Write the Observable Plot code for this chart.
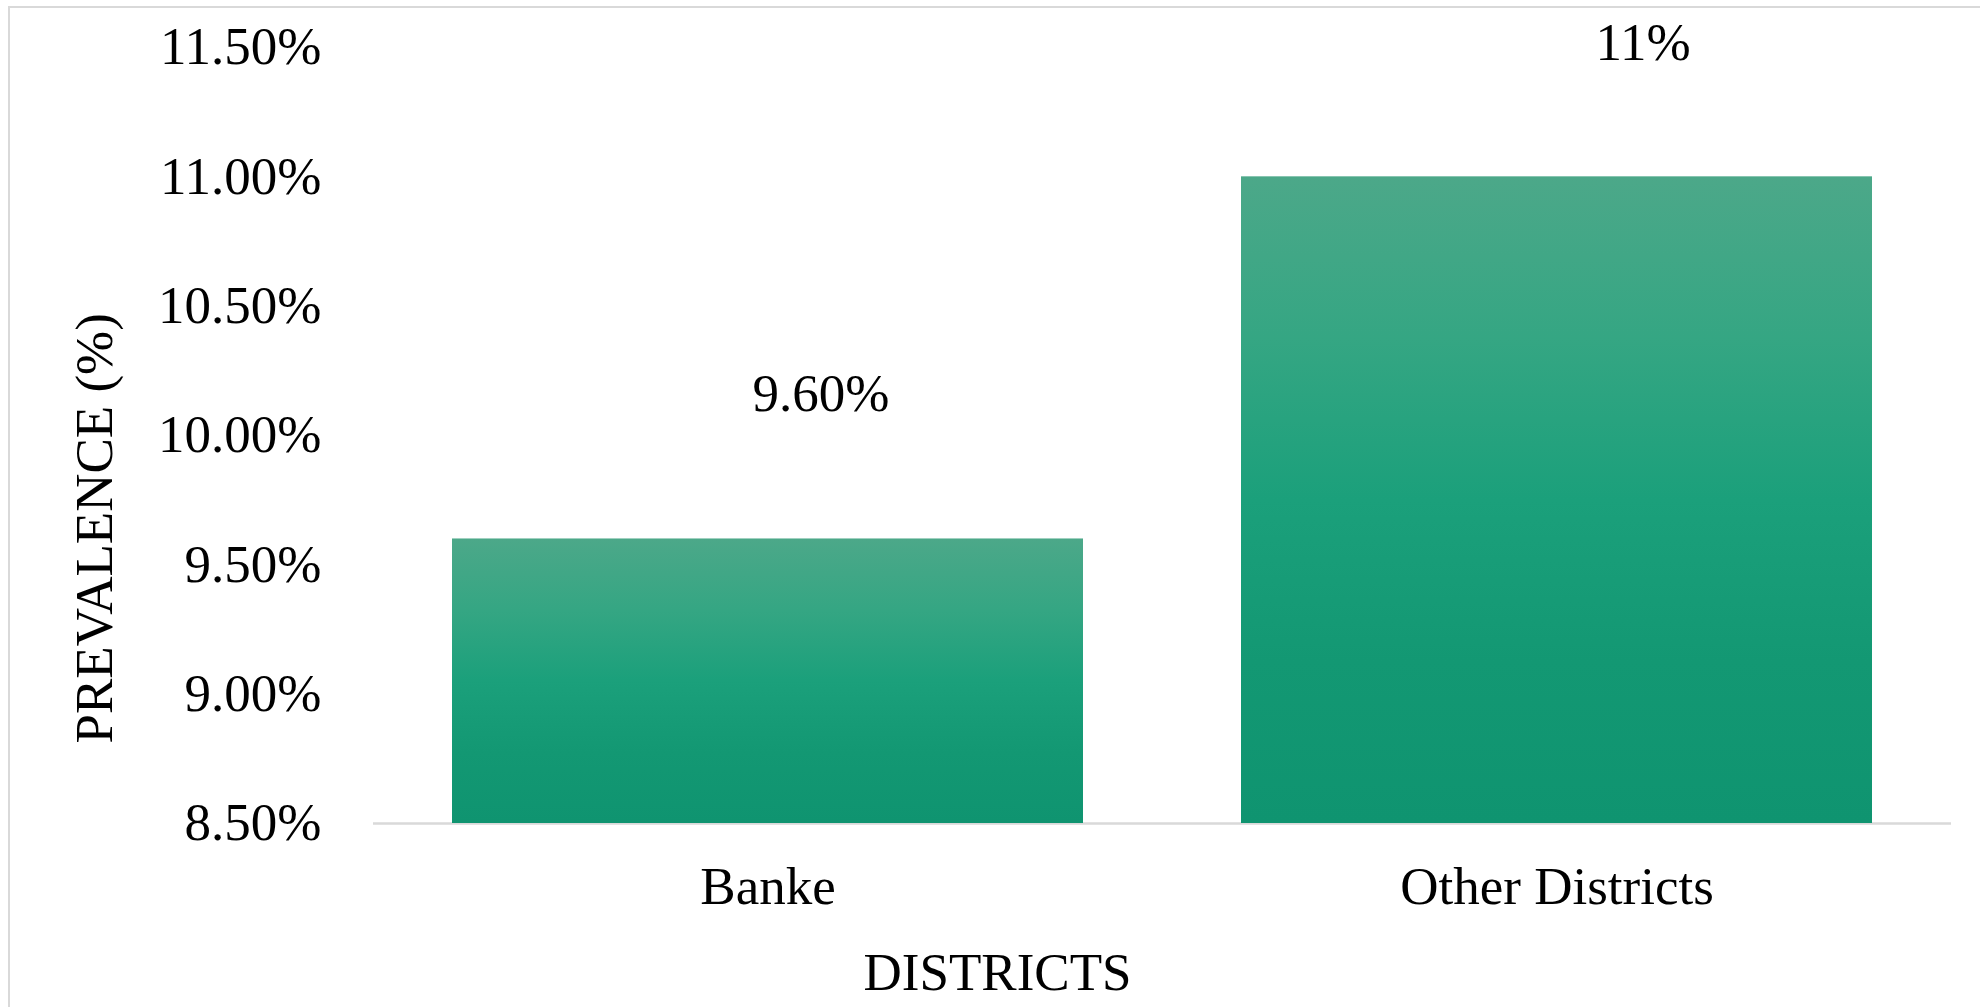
<!DOCTYPE html>
<html>
<head>
<meta charset="utf-8">
<script src="https://cdn.jsdelivr.net/npm/d3@7"></script>
<script src="https://cdn.jsdelivr.net/npm/@observablehq/plot@0.6"></script>
<style>
  html, body { margin: 0; padding: 0; background: #ffffff; overflow: hidden; }
  #wrap { position: relative; width: 1980px; height: 1007px; }
  #frame { position: absolute; left: 8px; top: 6px; width: 3000px; height: 3000px;
           border: 2px solid #d9d9d9; pointer-events: none; box-sizing: border-box; }
  #chart { position: absolute; left: 0; top: 0; }
</style>
</head>
<body>
<div id="wrap"><div id="frame"></div><div id="chart"></div></div>
<script>
const districts = ["Banke", "Other Districts"];
const prevalence = [9.6, 11.0];
const valueLabels = ["9.60%", "11%"];
const yTicks = [8.5, 9.0, 9.5, 10.0, 10.5, 11.0, 11.5];
const xTitle = "DISTRICTS";
const yTitle = "PREVALENCE (%)";

const data = districts.map((d, i) => ({district: d, value: prevalence[i], label: valueLabels[i]}));

const FONT = "'Liberation Serif', 'Times New Roman', serif";
const FS = 53;

const chart = Plot.plot({
  width: 1980,
  height: 1007,
  marginLeft: 373,
  marginRight: 29,
  marginTop: 47,
  marginBottom: 184,
  style: {fontFamily: FONT, fontSize: FS + "px", color: "#000", background: "transparent", overflow: "visible"},
  x: {domain: districts, paddingInner: 0.2, paddingOuter: 0.1},
  y: {domain: [8.5, 11.5]},
  marks: [
    Plot.ruleY([8.5], {stroke: "#d9d9d9", strokeWidth: 2.5}),
    Plot.barY(data, {x: "district", y1: 8.5, y2: "value", fill: "url(#barGrad)",
      style: {filter: "drop-shadow(3px 1px 3px rgba(0,0,0,0.22))"}}),
    Plot.axisY({ticks: yTicks, tickSize: 0, tickPadding: 52, label: null,
      tickFormat: d => d.toFixed(2) + "%", fontSize: FS, fill: "#000"}),
    Plot.axisX({tickSize: 0, tickPadding: 43, label: null, fontSize: FS, fill: "#000"}),
    Plot.text(data.filter(d => d.district === districts[0]), {x: "district", y: "value", text: "label",
      dx: 53, dy: -145, fontSize: FS, fill: "#000"}),
    Plot.text(data.filter(d => d.district === districts[1]), {x: "district", y: "value", text: "label",
      dx: 86, dy: -134, fontSize: FS, fill: "#000"}),
    Plot.text([xTitle], {frameAnchor: "bottom", text: d => d, dx: -165, dy: 166, fontSize: FS, fill: "#000"}),
    Plot.text([yTitle], {frameAnchor: "left", text: d => d, rotate: -90, dx: -278, dy: 308, fontSize: FS, fill: "#000"})
  ]
});

const svg = d3.select(chart);
const defs = svg.insert("defs", ":first-child");
const grad = defs.append("linearGradient").attr("id", "barGrad")
  .attr("x1", 0).attr("y1", 0).attr("x2", 0).attr("y2", 1);
[[0, "#4ca889"], [0.25, "#35a683"], [0.5, "#1ba07b"], [0.75, "#139873"], [1, "#0f9470"]]
  .forEach(([o, c]) => grad.append("stop").attr("offset", o).attr("stop-color", c));

document.getElementById("chart").appendChild(chart);
</script>
</body>
</html>
